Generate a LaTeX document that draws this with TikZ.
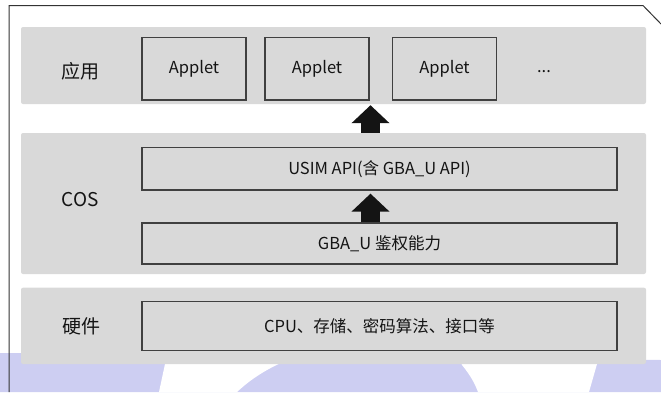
\documentclass[tikz,border=0pt]{standalone}
\usepackage{fontspec}
\setmainfont{Noto Sans CJK SC}
\usetikzlibrary{arrows.meta, positioning}
\definecolor{LayerGray}{HTML}{D9D9D9}
\definecolor{EdgeGray}{HTML}{404040}
\definecolor{WaterLilac}{HTML}{CDCEF2}
\tikzset{
  layer/.style={fill=LayerGray, rounded corners=2pt, inner sep=0pt},
  unitbox/.style={draw=EdgeGray, line width=1.3pt, inner sep=0pt, text=black!92, font=\fontsize{16.5}{20}\selectfont},
  tag/.style={text=black!92, font=\fontsize{19}{22}\selectfont},
  blockarrow/.style={line width=19pt, black!92, -{Triangle[length=18pt,width=37pt]}}
}

\begin{document}
\begin{tikzpicture}[x=1pt, y=-1pt]
\useasboundingbox (0,0) rectangle (661,392);
% 背景水印
\fill[WaterLilac] (0,353) -- (661,360) -- (661,392) -- (0,392) -- cycle;
\fill[white] (168,350) -- (159,392) -- (237,392) .. controls (252,378) and (268,368) .. (292,358) -- (292,350) -- cycle;
\fill[white] (456,350) -- (462,365) .. controls (471,376) and (475,384) .. (478,392) -- (589,392) -- (601,350) -- cycle;
% 外框
\draw[black!80, line width=1pt] (9,392) -- (9,5.5) -- (643,5.5) -- (661,24);
% 三层
\node[layer, minimum width=625pt, minimum height=77pt] (appband) at (333.5,65.5) {};
\node[layer, minimum width=625pt, minimum height=141pt] (cosband) at (333.5,203.5) {};
\node[layer, minimum width=625pt, minimum height=76.3pt] (hwband) at (333.5,325.85) {};
\node[tag] (applabel) at (80,71) {应用};
\node[tag] (coslabel) at (80,200) {COS};
\node[tag] (hwlabel) at (81,326.5) {硬件};
% 应用层
\node[unitbox, minimum width=104pt, minimum height=62.5pt] (applet1) at (194,68.75) {Applet};
\node[unitbox, minimum width=104pt, minimum height=62.5pt] (applet2) at (317,68.75) {Applet};
\node[unitbox, minimum width=104pt, minimum height=62.5pt] (applet3) at (444.5,68.75) {Applet};
\node[text=black!92, font=\fontsize{16.5}{20}\selectfont] (more) at (544,72) {...};
% COS 层
\node[unitbox, minimum width=475pt, minimum height=42.5pt] (usim) at (379.5,168.75) {USIM API(含 GBA\_U API)};
\node[unitbox, minimum width=475pt, minimum height=41pt] (gba) at (379.5,243.5) {GBA\_U 鉴权能力};
% 硬件层
\node[unitbox, minimum width=475pt, minimum height=49pt] (cpu) at (379.5,326.2) {CPU、存储、密码算法、接口等};
% 箭头
\coordinate (axis) at (370.5,0);
\draw[blockarrow, shorten >=1pt] (cosband.north -| axis) -- (appband.south -| axis);
\draw[blockarrow, shorten >=3pt] (gba.north -| axis) -- (usim.south -| axis);
\end{tikzpicture}
\end{document}
